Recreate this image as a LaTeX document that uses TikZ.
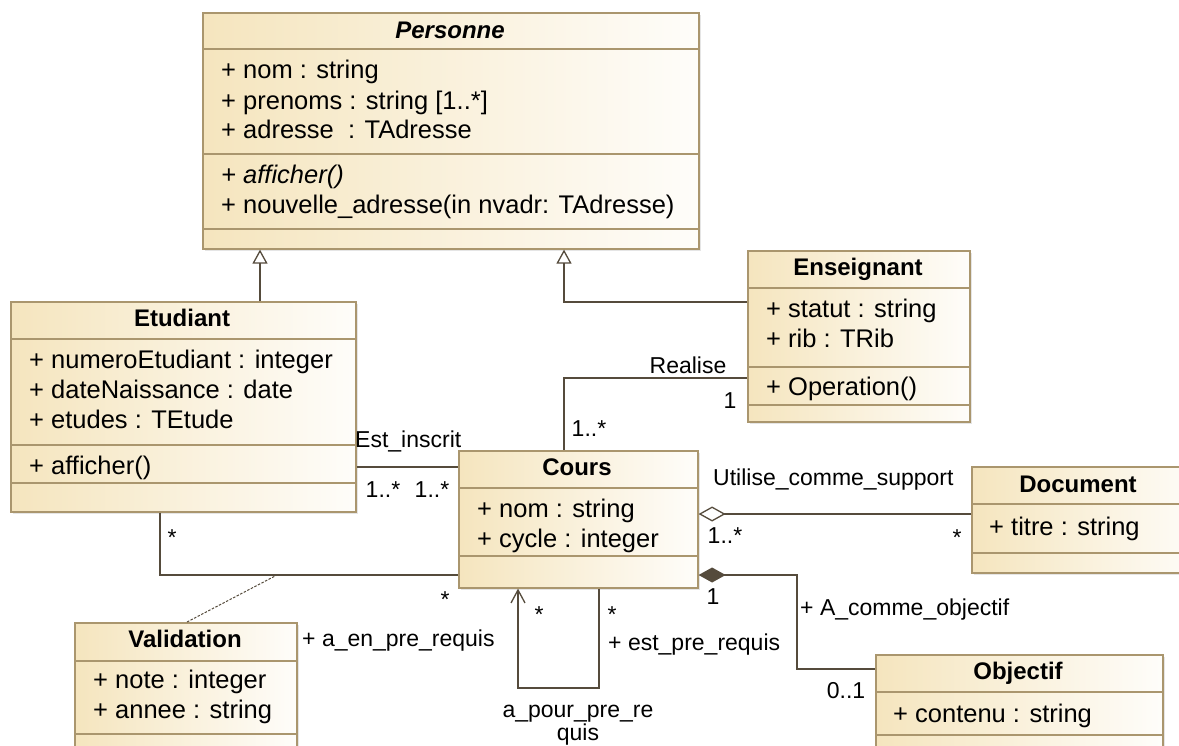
\documentclass[tikz,border=0pt]{standalone}
\usepackage{fontspec}
\setmainfont{Liberation Sans}
\usetikzlibrary{arrows.meta,shadows}

\definecolor{umlborder}{RGB}{170,150,110}
\definecolor{umlfill}{RGB}{245,229,190}
\definecolor{umlline}{RGB}{85,75,60}

\newcommand\umlfont{\fontsize{25.5}{30}\selectfont}
\newcommand\titlefont{\fontsize{24}{28}\selectfont}
\newcommand\lblfont{\fontsize{23}{27}\selectfont}

\tikzset{
  classbox/.style={draw=umlborder, line width=1.6pt, left color=umlfill, right color=umlfill!8,
    anchor=north west, inner sep=0pt,
    drop shadow={shadow xshift=2pt, shadow yshift=-2pt, fill=black!20}},
  sep/.style={draw=umlborder, line width=1.4pt},
  title/.style={anchor=base, inner sep=0pt, font=\titlefont\bfseries},
  member/.style={anchor=base west, inner sep=0pt, font=\umlfont},
  lbl/.style={anchor=base, inner sep=0pt, font=\lblfont},
  lblw/.style={anchor=base west, inner sep=0pt, font=\lblfont},
  assoc/.style={draw=umlline, line width=1.3pt},
  gen/.style={assoc, -{Triangle[open, length=14pt, width=15pt, fill=white]}},
  aggr/.style={assoc, -{Diamond[open, length=27pt, width=15pt, fill=white]}},
  comp/.style={assoc, -{Diamond[length=27pt, width=15pt, fill=umlline]}},
  nav/.style={assoc, -{Straight Barb[length=13pt, width=14pt]}},
  dashline/.style={draw=umlline, line width=1pt, dash pattern=on 2.5pt off 1.5pt}
}

\begin{document}
\begin{tikzpicture}[x=1pt, y=-1pt]
    \useasboundingbox[fill=white] (0,0) rectangle (1179,745);

    \node[classbox, minimum width=496pt, minimum height=236pt] (personne) at (202,12) {};
    \node[classbox, minimum width=345pt, minimum height=210pt] (etudiant) at (10,301) {};
    \node[classbox, minimum width=222pt, minimum height=171pt] (enseignant) at (747,250) {};
    \node[classbox, minimum width=239pt, minimum height=137pt] (cours) at (458,450) {};
    \node[classbox, minimum width=230pt, minimum height=106pt] (document) at (971,466) {};
    \node[classbox, minimum width=287pt, minimum height=120pt] (objectif) at (875,654) {};
    \node[classbox, minimum width=222pt, minimum height=150pt] (validation) at (74,622) {};

    \draw[sep] (personne.west |- 0,49) -- (personne.east |- 0,49)
               (personne.west |- 0,154) -- (personne.east |- 0,154)
               (personne.west |- 0,229) -- (personne.east |- 0,229);
    \draw[sep] (etudiant.west |- 0,339) -- (etudiant.east |- 0,339)
               (etudiant.west |- 0,445) -- (etudiant.east |- 0,445)
               (etudiant.west |- 0,483) -- (etudiant.east |- 0,483);
    \draw[sep] (enseignant.west |- 0,288) -- (enseignant.east |- 0,288)
               (enseignant.west |- 0,367) -- (enseignant.east |- 0,367)
               (enseignant.west |- 0,405) -- (enseignant.east |- 0,405);
    \draw[sep] (cours.west |- 0,488) -- (cours.east |- 0,488)
               (cours.west |- 0,556) -- (cours.east |- 0,556);
    \draw[sep] (document.west |- 0,504) -- (document.east |- 0,504)
               (document.west |- 0,553) -- (document.east |- 0,553);
    \draw[sep] (objectif.west |- 0,692) -- (objectif.east |- 0,692)
               (objectif.west |- 0,735) -- (objectif.east |- 0,735);
    \draw[sep] (validation.west |- 0,661) -- (validation.east |- 0,661)
               (validation.west |- 0,734) -- (validation.east |- 0,734);

    \node[title, font=\titlefont\bfseries\itshape] (personne-t) at (450,38) {Personne};
    \node[member] (personne-a1) at (221,78) {+ nom : string};
    \node[member] (personne-a2) at (221,109) {+ prenoms : string [1..*]};
    \node[member] (personne-a3) at (221,138) {+ adresse\ \ : TAdresse};
    \node[member, font=\umlfont\itshape] (personne-o1) at (221,183) {+ afficher()};
    \node[member] (personne-o2) at (221,213) {+ nouvelle\_adresse(in nvadr: TAdresse)};

    \node[title] (etudiant-t) at (182,326) {Etudiant};
    \node[member] (etudiant-a1) at (29,368) {+ numeroEtudiant : integer};
    \node[member] (etudiant-a2) at (29,398) {+ dateNaissance : date};
    \node[member] (etudiant-a3) at (29,428) {+ etudes : TEtude};
    \node[member] (etudiant-o1) at (29,474) {+ afficher()};

    \node[title] (enseignant-t) at (858,275) {Enseignant};
    \node[member] (enseignant-a1) at (766,317) {+ statut : string};
    \node[member] (enseignant-a2) at (766,347) {+ rib : TRib};
    \node[member] (enseignant-o1) at (766,395) {+ Operation()};

    \node[title] (cours-t) at (577,475) {Cours};
    \scope
    \clip (458,488) rectangle (697,554);
    \node[member] (cours-a1) at (477,517) {+ nom : string};
    \node[member] (cours-a2) at (477,547) {+ cycle : integer};
    \endscope

    \node[title] (document-t) at (1078,492) {Document};
    \node[member] (document-a1) at (989,535) {+ titre : string};

    \node[title] (objectif-t) at (1018,679) {Objectif};
    \node[member] (objectif-a1) at (893,722) {+ contenu : string};

    \node[title] (validation-t) at (185,647) {Validation};
    \node[member] (validation-a1) at (93,688) {+ note : integer};
    \node[member] (validation-a2) at (93,718) {+ annee : string};

    \draw[gen] (etudiant.north -| 260,0) -- (personne.south -| 260,0);
    \draw[gen] (enseignant.west |- 0,302) -| (personne.south -| 564,0);

    \draw[assoc] (enseignant.west |- 0,378) -| (cours.north -| 564,0);
    \node[lbl] (realise) at (688,373) {Realise};
    \node[lbl] (realise-m1) at (730,408) {1};
    \node[lbl] (realise-m2) at (589,436) {1..*};

    \draw[assoc] (etudiant.east |- 0,467) -- (cours.west |- 0,467);
    \node[lblw] (inscrit) at (355,447) {Est\_inscrit};
    \node[lbl] (inscrit-m1) at (383,497) {1..*};
    \node[lbl] (inscrit-m2) at (432,497) {1..*};

    \draw[assoc] (etudiant.south -| 160,0) |- (cours.west |- 0,575);
    \coordinate (valid-pt) at (277,575);
    \draw[dashline] (validation.north -| 187,0) -- (valid-pt);
    \node[lbl] (valid-m1) at (172,545) {*};
    \node[lbl] (valid-m2) at (445,607) {*};

    \draw[aggr] (document.west |- 0,514) -- (cours.east |- 0,514);
    \node[lblw] (support) at (713,485) {Utilise\_comme\_support};
    \node[lbl] (support-m1) at (725,543) {1..*};
    \node[lbl] (support-m2) at (957,545) {*};

    \coordinate (obj-bend) at (797,575);
    \draw[comp] (objectif.west |- 0,669) -| (obj-bend) -- (cours.east |- 0,575);
    \node[lbl] (obj-m1) at (713,604) {1};
    \node[lblw] (obj-role) at (800,615) {+ A\_comme\_objectif};
    \node[lbl] (obj-m2) at (846,698) {0..1};

    \draw[nav] (cours.south -| 599,0) -- (599,688) -| (cours.south -| 518,0);
    \node[lbl] (req-m1) at (539,622) {*};
    \node[lbl] (req-m2) at (612,622) {*};
    \node[lblw] (req-role1) at (302,646) {+ a\_en\_pre\_requis};
    \node[lblw] (req-role2) at (608,650) {+ est\_pre\_requis};
    \node[lbl] (req-name1) at (578,717) {a\_pour\_pre\_re};
    \node[lbl] (req-name2) at (578,740) {quis};
  \end{tikzpicture}
\end{document}
